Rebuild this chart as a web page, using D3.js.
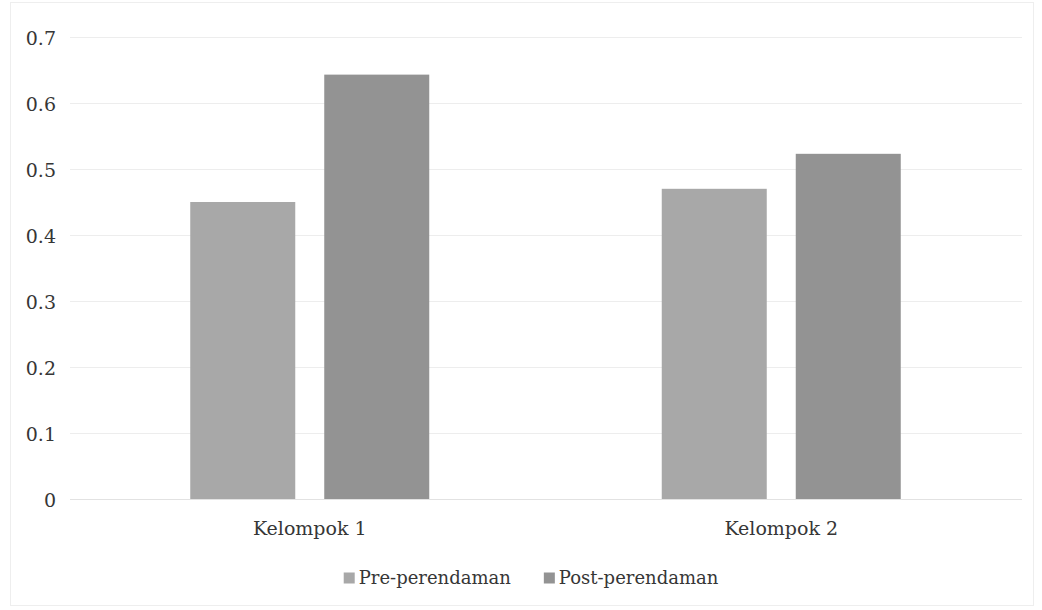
<!DOCTYPE html>
<html>
<head>
<meta charset="utf-8">
<script src="https://cdn.jsdelivr.net/npm/d3@7"></script>
<style>
  html, body { margin: 0; padding: 0; background: #fff; }
  svg { display: block; }
</style>
</head>
<body>
<svg id="chart" width="1042" height="610"></svg>
<script>
// Groups along the x axis
const categories = ["Kelompok 1", "Kelompok 2"];
// Series names and their values per group
const seriesNames = ["Pre-perendaman", "Post-perendaman"];
const preValues = [0.45, 0.47];
const postValues = [0.643, 0.523];
// Y axis ticks
const yTicks = [0, 0.1, 0.2, 0.3, 0.4, 0.5, 0.6, 0.7];
const seriesColors = ["#a8a8a8", "#939393"];
const textColor = "#363636";
const fontFamily = "DejaVu Serif";

const rows = categories.map((c, i) => ({ cat: c, values: [preValues[i], postValues[i]] }));

const svg = d3.select("#chart");
const plot = { left: 74, right: 1017, top: 37, bottom: 499 };

function styleText(sel, size) {
  sel.attr("font-family", fontFamily)
     .style("font-family", fontFamily)
     .attr("font-size", size)
     .attr("fill", textColor);
}

// faint outer frame of the chart area
svg.append("rect")
  .attr("x", 10.5).attr("y", 2.5)
  .attr("width", 1023).attr("height", 603)
  .attr("fill", "#fff").attr("stroke", "#eeeeee").attr("stroke-width", 1);

const x0 = d3.scaleBand().domain(categories).range([plot.left, plot.right]).padding(0);
const y = d3.scaleLinear().domain([0, 0.7]).range([plot.bottom, plot.top]);

// horizontal gridlines
svg.append("g").selectAll("line")
  .data(yTicks.filter(t => t > 0))
  .join("line")
  .attr("x1", 70).attr("x2", 1022)
  .attr("y1", d => Math.round(y(d)) + 0.5).attr("y2", d => Math.round(y(d)) + 0.5)
  .attr("stroke", "#ededed").attr("stroke-width", 1.2);

// y axis labels
const yAxis = d3.axisLeft(y).tickValues(yTicks).tickSize(0).tickPadding(0)
  .tickFormat(d => d === 0 ? "0" : d3.format(".1f")(d));
const gy = svg.append("g").attr("transform", "translate(56,1)").call(yAxis);
gy.select(".domain").remove();
styleText(gy.selectAll("text"), 19);

// bars
const barW = 105, innerGap = 29;
const groupW = barW * 2 + innerGap;
const x1 = d3.scaleBand().domain([0, 1]).range([0, groupW])
  .paddingInner(innerGap / (barW + innerGap)).paddingOuter(0);

const groups = svg.append("g").selectAll("g")
  .data(rows)
  .join("g")
  .attr("transform", d => `translate(${x0(d.cat) + x0.bandwidth() / 2 - groupW / 2},0)`);

groups.selectAll("rect")
  .data(d => d.values.map((v, i) => ({ v, i })))
  .join("rect")
  .attr("x", d => x1(d.i))
  .attr("width", x1.bandwidth())
  .attr("y", d => y(d.v))
  .attr("height", d => y(0) - y(d.v))
  .attr("fill", d => seriesColors[d.i]);

// baseline
svg.append("line")
  .attr("x1", 70).attr("x2", 1022)
  .attr("y1", Math.round(y(0)) + 0.5).attr("y2", Math.round(y(0)) + 0.5)
  .attr("stroke", "#e2e2e2").attr("stroke-width", 1.2);

// x axis labels
const xAxis = d3.axisBottom(x0).tickSize(0).tickPadding(0);
const gx = svg.append("g").attr("transform", `translate(0,${plot.bottom + 22})`).call(xAxis);
gx.select(".domain").remove();
styleText(gx.selectAll("text"), 19);

// legend
const legend = svg.append("g");
let cursor = 0;
seriesNames.forEach((name, i) => {
  const item = legend.append("g").attr("transform", `translate(${cursor},0)`);
  item.append("rect")
    .attr("x", 0).attr("y", -5.5)
    .attr("width", 11).attr("height", 11)
    .attr("fill", seriesColors[i]);
  const t = item.append("text")
    .attr("x", 15).attr("y", 0)
    .attr("dy", "0.35em")
    .text(name);
  styleText(t, 18);
  cursor += 15 + t.node().getComputedTextLength() + 33;
});
const legendW = cursor - 33;
legend.attr("transform", `translate(${531 - legendW / 2},578)`);
</script>
</body>
</html>
